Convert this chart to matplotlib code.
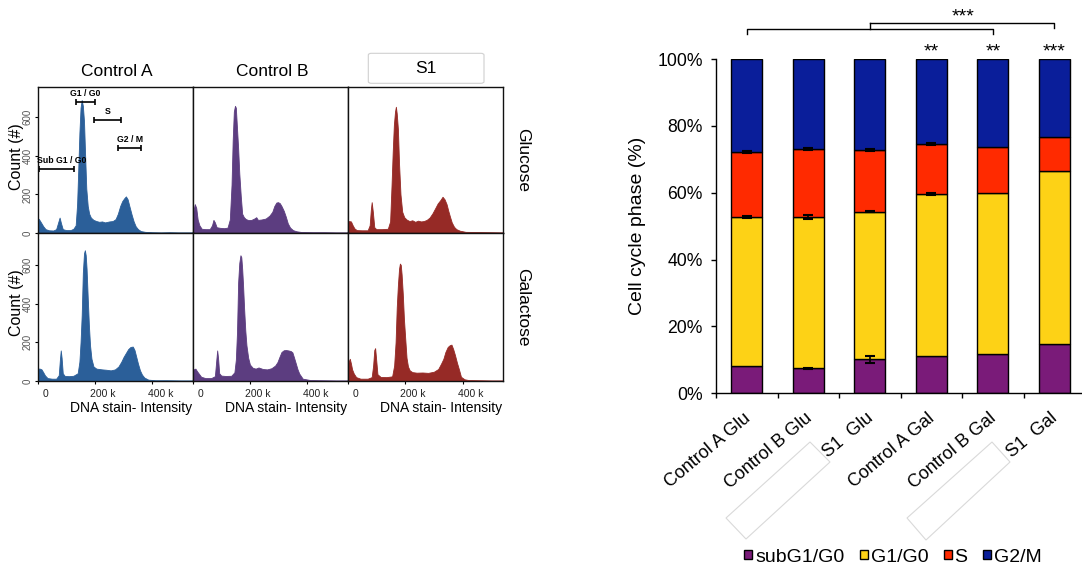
import matplotlib
matplotlib.use('Agg')
import matplotlib.pyplot as plt
import matplotlib.transforms as mtransforms
from matplotlib.patches import Patch, Polygon, FancyBboxPatch
import numpy as np

plt.rcParams['font.family'] = ['Liberation Sans', 'DejaVu Sans']

# ---------------- histogram data (DNA stain intensity in k, counts) ----------------
col_titles = ['Control A', 'Control B', 'S1']
row_titles = ['Glucose', 'Galactose']
hist_colors = ['#2b5f99', '#5c3d80', '#962a26']

ctrlA_glu_dna = [0, 5, 12, 20, 28, 40, 55, 65, 72, 77, 82, 88, 100, 115, 125, 133, 138, 142, 146, 150,
                 154, 158, 162, 166, 170, 175, 180, 186, 195, 205, 215, 225, 235, 250, 262, 272, 280, 288, 295, 302,
                 308, 314, 320, 328, 335, 342, 350, 360, 375, 400, 430, 460, 490, 540]
ctrlA_glu_cnt = [78, 72, 55, 35, 20, 14, 13, 20, 55, 80, 50, 20, 15, 15, 22, 40, 150, 330, 520, 650,
                 690, 660, 580, 400, 230, 140, 100, 80, 68, 62, 58, 60, 55, 60, 62, 72, 100, 140, 165, 180,
                 190, 175, 140, 95, 60, 35, 20, 10, 6, 4, 3, 4, 3, 3]

ctrlB_glu_dna = [0, 4, 8, 13, 18, 24, 32, 45, 60, 68, 73, 78, 84, 95, 110, 122, 130, 136, 140, 144,
                 148, 151, 155, 159, 163, 168, 173, 179, 186, 195, 205, 215, 222, 228, 240, 255, 268, 278, 285, 292,
                 298, 304, 310, 318, 325, 332, 340, 350, 362, 380, 420, 460, 500, 540]
ctrlB_glu_cnt = [60, 120, 150, 130, 70, 40, 22, 20, 20, 40, 68, 55, 30, 27, 25, 28, 70, 250, 480, 630,
                 660, 650, 545, 440, 310, 195, 100, 82, 72, 67, 68, 75, 82, 68, 70, 75, 90, 110, 140, 158,
                 160, 155, 140, 115, 85, 50, 28, 15, 9, 5, 4, 4, 3, 3]

s1_glu_dna = [0, 5, 12, 18, 24, 32, 50, 70, 77, 81, 84, 88, 93, 100, 120, 140, 148, 153, 157, 161,
              165, 168, 171, 175, 179, 184, 190, 197, 205, 215, 225, 235, 245, 255, 265, 275, 285, 295, 305, 313,
              322, 330, 337, 344, 350, 356, 362, 370, 378, 390, 410, 450, 500, 540]
s1_glu_cnt = [50, 62, 60, 40, 24, 15, 14, 14, 40, 120, 160, 110, 30, 20, 20, 22, 60, 250, 420, 560,
              630, 655, 620, 540, 360, 200, 110, 82, 70, 62, 66, 58, 64, 60, 62, 68, 80, 102, 130, 153,
              170, 188, 175, 150, 115, 84, 55, 32, 20, 12, 6, 5, 4, 3]

ctrlA_gal_dna = [0, 6, 14, 20, 26, 35, 50, 65, 74, 78, 81, 84, 88, 95, 110, 125, 140, 146, 150, 154,
                 158, 162, 165, 168, 171, 175, 179, 183, 188, 195, 205, 215, 225, 240, 255, 270, 282, 292, 300, 308,
                 316, 324, 332, 338, 344, 350, 357, 364, 372, 386, 410, 450, 500, 540]
ctrlA_gal_cnt = [55, 65, 60, 45, 29, 15, 12, 12, 30, 110, 158, 120, 40, 26, 25, 27, 40, 100, 200, 340,
                 560, 660, 676, 650, 580, 430, 290, 185, 115, 75, 64, 62, 60, 58, 55, 60, 75, 100, 125, 145,
                 165, 176, 178, 160, 125, 90, 55, 33, 18, 7, 4, 4, 3, 3]

ctrlB_gal_dna = [0, 4, 10, 16, 22, 30, 45, 65, 78, 83, 86, 89, 93, 100, 115, 135, 146, 151, 155, 159,
                 163, 167, 170, 173, 176, 180, 184, 188, 194, 200, 210, 220, 230, 245, 260, 275, 288, 296, 303, 310,
                 318, 326, 334, 342, 348, 354, 360, 366, 372, 384, 410, 450, 500, 540]
ctrlB_gal_cnt = [40, 60, 64, 50, 38, 22, 15, 15, 25, 110, 158, 120, 40, 28, 26, 27, 45, 110, 250, 510,
                 610, 650, 640, 581, 500, 370, 260, 184, 120, 85, 68, 64, 70, 62, 60, 66, 80, 98, 125, 150,
                 159, 160, 158, 155, 148, 120, 90, 60, 38, 12, 5, 4, 3, 3]

s1_gal_dna = [0, 4, 8, 12, 16, 22, 30, 45, 70, 84, 89, 93, 96, 99, 104, 115, 135, 155, 162, 167,
              171, 175, 179, 182, 185, 188, 192, 196, 200, 205, 210, 216, 225, 240, 260, 280, 300, 315, 325, 333,
              340, 348, 355, 361, 367, 373, 380, 387, 394, 406, 420, 460, 500, 540]
s1_gal_cnt = [60, 100, 115, 90, 60, 38, 20, 12, 12, 20, 80, 160, 170, 120, 35, 21, 20, 24, 80, 200,
              380, 495, 580, 607, 600, 550, 450, 320, 230, 120, 75, 55, 46, 43, 44, 42, 48, 62, 90, 115,
              150, 176, 185, 188, 165, 135, 95, 60, 22, 9, 5, 4, 3, 3]

hist_data = [[(ctrlA_glu_dna, ctrlA_glu_cnt), (ctrlB_glu_dna, ctrlB_glu_cnt), (s1_glu_dna, s1_glu_cnt)],
             [(ctrlA_gal_dna, ctrlA_gal_cnt), (ctrlB_gal_dna, ctrlB_gal_cnt), (s1_gal_dna, s1_gal_cnt)]]

# gates drawn on Control A / Glucose: (label, start k, end k, count level)
gate_labels = ['G1 / G0', 'S', 'G2 / M', 'Sub G1 / G0']
gate_start = [134, 198, 282, 6]
gate_end = [200, 290, 360, 127]
gate_level = [682, 588, 441, 334]

x_ticks = [0, 200, 400]
x_tick_labels = ['0', '200 k', '400 k']
y_ticks = [0, 200, 400, 600]

# ---------------- bar chart data ----------------
categories = ['Control A Glu', 'Control B Glu', 'S1  Glu', 'Control A Gal', 'Control B Gal', 'S1  Gal']
subG1 = [8.2, 7.5, 10.2, 11.3, 11.8, 14.7]
G1G0 = [44.6, 45.1, 44.1, 48.2, 48.2, 51.7]
S_phase = [19.4, 20.5, 18.4, 15.2, 13.7, 10.4]
G2M = [27.8, 26.9, 27.3, 25.3, 26.3, 23.2]
err_subG1 = [0.0, 0.2, 1.0, 0.0, 0.0, 0.0]
err_G1G0 = [0.3, 0.6, 0.2, 0.3, 0.0, 0.0]
err_S = [0.2, 0.4, 0.3, 0.3, 0.0, 0.0]
phase_names = ['subG1/G0', 'G1/G0', 'S', 'G2/M']
phase_colors = ['#7a1b79', '#fdd216', '#ff2a00', '#0a1e9a']
bar_stars = ['', '', '', '**', '**', '***']

# ---------------- figure ----------------
W, H = 1082, 574
fig = plt.figure(figsize=(W / 100, H / 100), dpi=100)


def rect(x0, y0, x1, y1):
    return [x0 / W, 1 - y1 / H, (x1 - x0) / W, (y1 - y0) / H]


def fx(x):
    return x / W


def fy(y):
    return 1 - y / H


col_x = [(37.5, 192.5), (192.5, 347.5), (347.5, 503)]
row_y = [(87.5, 233), (233, 381)]
tick_offset = mtransforms.ScaledTranslation(8 / 100, 0, fig.dpi_scale_trans)

for r in range(2):
    for c in range(3):
        x0, x1 = col_x[c]
        y0, y1 = row_y[r]
        ax = fig.add_axes(rect(x0, y0, x1, y1))
        dna, cnt = hist_data[r][c]
        ax.fill_between(dna, cnt, 0, color=hist_colors[c], lw=0.6, edgecolor=hist_colors[c])
        ax.set_xlim(0, 540)
        ax.set_ylim(0, 755 if r == 0 else 765)
        for s in ax.spines.values():
            s.set_linewidth(1.0)
            s.set_color('#111111')
        if c == 0:
            ax.set_yticks(y_ticks)
            ax.set_yticklabels([str(v) for v in y_ticks], rotation=90, va='center',
                               fontsize=7, color='#555555')
            ax.tick_params(axis='y', direction='out', length=2.5, width=0.8, pad=1)
        else:
            ax.set_yticks([])
        if r == 1:
            ax.set_xticks(x_ticks)
            ax.set_xticklabels(x_tick_labels, fontsize=7.5, color='#222222')
            ax.tick_params(axis='x', direction='out', length=2.5, width=0.8, pad=3)
            for t in ax.xaxis.get_major_ticks():
                t.label1.set_transform(t.label1.get_transform() + tick_offset)
            fig.text(fx((x0 + x1) / 2 + 16), fy(408), 'DNA stain- Intensity',
                     ha='center', va='center', fontsize=10)
        else:
            ax.set_xticks([])
        if r == 0 and c == 0:
            for lab, s0, s1, lv in zip(gate_labels, gate_start, gate_end, gate_level):
                ax.plot([s0, s1], [lv, lv], color='black', lw=1.2, solid_capstyle='butt')
                ax.plot([s0, s1], [lv, lv], ls='none', marker='|', ms=4.5, mew=1.2, color='black')
                ax.text((s0 + s1) / 2 if lab != 'Sub G1 / G0' else 85, lv + 20, lab,
                        ha='center', va='bottom', fontsize=6.3, fontweight='bold')
    # row label
    fig.text(fx(523), fy((row_y[r][0] + row_y[r][1]) / 2), row_titles[r],
             rotation=270, ha='center', va='center', fontsize=12.5)
    fig.text(fx(16), fy((row_y[r][0] + row_y[r][1]) / 2 - 4), 'Count (#)',
             rotation=90, ha='center', va='center', fontsize=11.5)

fig.text(fx(117), fy(71.5), col_titles[0], ha='center', va='center', fontsize=12.5)
fig.text(fx(272.5), fy(71.5), col_titles[1], ha='center', va='center', fontsize=12.5)
box = FancyBboxPatch((fx(368.3), fy(83.3)), fx(484) - fx(368.3), fy(53.3) - fy(83.3),
                     boxstyle='round,pad=0,rounding_size=0.003', transform=fig.transFigure,
                     facecolor='white', edgecolor='#d0d0d0', lw=0.8)
fig.add_artist(box)
fig.text(fx(426), fy(68.5), col_titles[2], ha='center', va='center', fontsize=12.5)

# ---------------- stacked bar chart ----------------
ax2 = fig.add_axes(rect(716, 59, 1082, 393.3))
xpos = np.arange(len(categories))
series = [subG1, G1G0, S_phase, G2M]
bottom = np.zeros(len(categories))
tops = []
for vals, col in zip(series, phase_colors):
    ax2.bar(xpos, vals, width=0.5, bottom=bottom, color=col, edgecolor='black', lw=1.0)
    bottom = bottom + np.array(vals)
    tops.append(bottom.copy())

for errs, top in zip([err_subG1, err_G1G0, err_S], tops[:3]):
    for i, e in enumerate(errs):
        if e > 0:
            ax2.errorbar(xpos[i], top[i], yerr=e, fmt='none', ecolor='black',
                         elinewidth=1.2, capsize=3.6, capthick=1.5)

ax2.set_xlim(-0.5, 5.45)
ax2.set_ylim(0, 100)
ax2.spines['top'].set_visible(False)
ax2.spines['right'].set_visible(False)
ax2.spines['left'].set_linewidth(1.0)
ax2.spines['bottom'].set_linewidth(1.0)
ax2.set_yticks([0, 20, 40, 60, 80, 100])
ax2.set_yticklabels([f'{v}%' for v in [0, 20, 40, 60, 80, 100]], fontsize=12.7)
ax2.set_xticks(np.arange(-0.5, 5.0, 1.0))
ax2.set_xticklabels([])
ax2.tick_params(axis='both', direction='out', length=3.6, width=1.0)
ax2.tick_params(axis='y', pad=6)

for i, cat in enumerate(categories):
    ax2.text(xpos[i] + 0.02, -6.9, cat, rotation=40, ha='right', va='center',
             rotation_mode='anchor', fontsize=13, clip_on=False)

fig.text(fx(637), fy(226), 'Cell cycle phase (%)', rotation=90, ha='center', va='center', fontsize=14)

# significance
for i, st in enumerate(bar_stars):
    if st:
        ax2.text(xpos[i], 102.2, st, ha='center', va='center', fontsize=14, clip_on=False)
ax2.plot([0, 0, 4, 4], [107.5, 109, 109, 107.5], color='black', lw=1.0, clip_on=False)
ax2.plot([2, 2], [109, 110.9], color='black', lw=1.0, clip_on=False)
ax2.plot([2, 5, 5], [110.9, 110.9, 109.3], color='black', lw=1.0, clip_on=False)
ax2.text(3.52, 112.5, '***', ha='center', va='center', fontsize=14, clip_on=False)

# faint empty text boxes
for pts in ([(726, 518), (810, 442), (830, 462), (746, 539)],
            [(907, 518), (992, 442), (1010, 462), (926, 540)]):
    poly = Polygon([(fx(a), fy(b)) for a, b in pts], closed=True, fill=False,
                   edgecolor='#d9d9d9', lw=0.8, transform=fig.transFigure)
    fig.add_artist(poly)

handles = [Patch(facecolor=c, edgecolor='black', lw=1.0) for c in phase_colors]
fig.legend(handles, phase_names, loc='center', bbox_to_anchor=(fx(893), fy(557)), ncol=4,
           frameon=False, fontsize=14, handlelength=0.4, handleheight=0.4, handletextpad=0.15,
           columnspacing=0.8, borderpad=0, borderaxespad=0)

fig.savefig('out.png', dpi=100)
